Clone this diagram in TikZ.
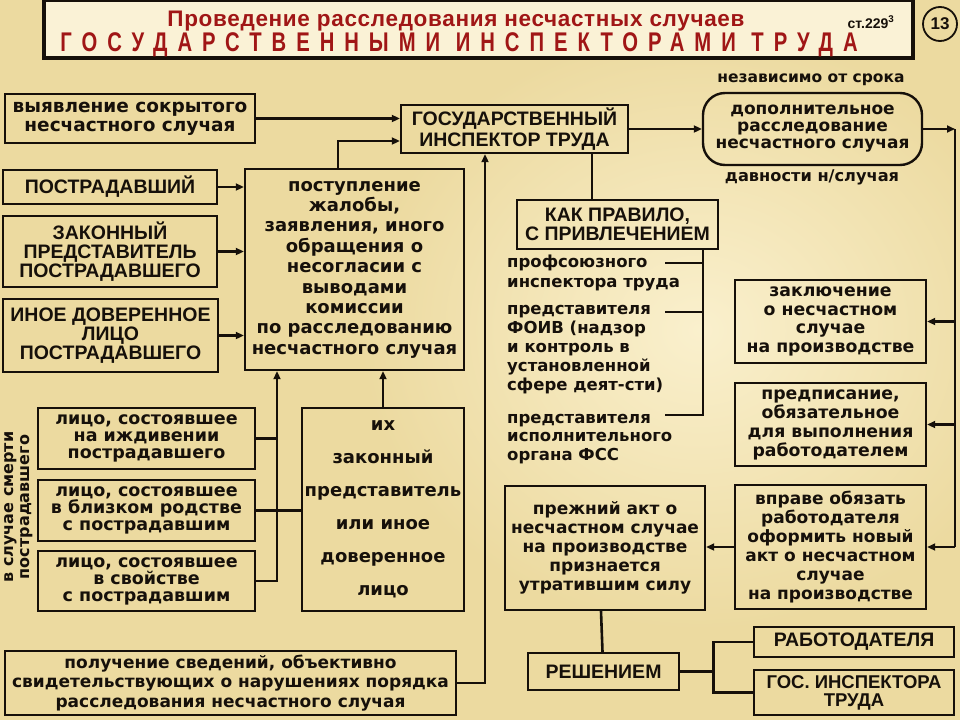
\documentclass[tikz,border=0pt]{standalone}
\usepackage{fontspec}
\setmainfont{DejaVu Sans}
\newfontfamily\capsf{Liberation Sans}
\newfontfamily\narrowf{Liberation Sans}[FakeStretch=0.75]
\usetikzlibrary{arrows.meta}
\definecolor{bg}{RGB}{236,218,160}
\definecolor{bgl}{RGB}{250,240,205}
\definecolor{tfill}{RGB}{250,242,214}
\definecolor{tred}{RGB}{160,22,22}
\definecolor{ink}{RGB}{22,16,10}
\newcommand\fsz[2]{\fontsize{#1}{#2}\selectfont}
\begin{document}
\begin{tikzpicture}[x=1pt,y=-1pt,color=ink,
  box/.style={draw=ink, line width=2.4pt, inner sep=0pt, align=center},
  con/.style={draw=ink, line width=2.6pt},
  arr/.style={con, -{Triangle[length=8pt,width=7pt]}},
  lc/.style={font=\bfseries\fsz{17}{#1}},
  uc/.style={font=\capsf\bfseries\fsz{19.5}{#1}},
]
\useasboundingbox (0,0) rectangle (960,720);
\fill[bg] (0,0) rectangle (960,720);
\shade[inner color=bgl, outer color=bg] (700,330) ellipse (340pt and 300pt);

% title
\node[draw=ink, line width=4pt, fill=tfill, minimum width=869pt, minimum height=58pt, inner sep=0pt] (title) at (478.5,29) {};
\node[text=tred, font=\capsf\bfseries\fsz{22.5}{22}\addfontfeature{LetterSpace=3}, anchor=base, inner sep=0pt] (t1) at (456,26) {Проведение расследования несчастных случаев};
\node[text=tred, font=\narrowf\bfseries\fsz{27}{27}\addfontfeature{LetterSpace=37}, anchor=base, inner sep=0pt] (t2) at (459,51.5) {ГОСУДАРСТВЕННЫМИ ИНСПЕКТОРАМИ ТРУДА};
\node[font=\capsf\bfseries\fsz{14}{14}, anchor=base, inner sep=0pt] (st) at (871,28) {ст.229\textsuperscript{3}};
\node[draw=ink, circle, line width=1.8pt, minimum size=34pt, inner sep=0pt, font=\capsf\bfseries\fsz{17}{17}] (num) at (940,24) {13};

% left column
\node[box, font=\bfseries\fsz{18.5}{19}, minimum width=250pt, minimum height=49pt] (vyyav) at (130,118.5) {выявление сокрытого\\несчастного случая};
\node[box, uc=21, minimum width=227pt, minimum height=48pt] (gos) at (514.5,129) {ГОСУДАРСТВЕННЫЙ\\ИНСПЕКТОР ТРУДА};
\node[box, uc=20, minimum width=214pt, minimum height=34pt] (postr) at (110,187) {ПОСТРАДАВШИЙ};
\node[box, uc=19, minimum width=214pt, minimum height=71pt] (zakon) at (110,251.5) {ЗАКОННЫЙ\\ПРЕДСТАВИТЕЛЬ\\ПОСТРАДАВШЕГО};
\node[box, uc=19, minimum width=215pt, minimum height=73pt] (inoe) at (110.5,335.5) {ИНОЕ ДОВЕРЕННОЕ\\ЛИЦО\\ПОСТРАДАВШЕГО};
\node[box, font=\bfseries\fsz{18}{20.4}, minimum width=219pt, minimum height=201pt] (postup) at (354.5,269.5) {поступление\\жалобы,\\заявления, иного\\обращения о\\несогласии с\\выводами\\комиссии\\по расследованию\\несчастного случая};

\node[box, font=\bfseries\fsz{17.5}{17}, minimum width=217pt, minimum height=61pt] (lico1) at (146.5,438.5) {лицо, состоявшее\\на иждивении\\пострадавшего};
\node[box, font=\bfseries\fsz{17.5}{17}, minimum width=217pt, minimum height=61pt] (lico2) at (146.5,510.5) {лицо, состоявшее\\в близком родстве\\с пострадавшим};
\node[box, font=\bfseries\fsz{17.5}{17}, minimum width=217pt, minimum height=60pt] (lico3) at (146.5,581) {лицо, состоявшее\\в свойстве\\с пострадавшим};
\node[font=\bfseries\fsz{16}{16}, rotate=90, align=center] (smert) at (19,507) {в случае смерти\\пострадавшего};
\node[box, font=\bfseries\fsz{18}{33}, minimum width=162pt, minimum height=203pt] (ih) at (383,509.5) {их\\законный\\представитель\\или иное\\доверенное\\лицо};
\node[box, lc=19.5, minimum width=451pt, minimum height=64pt] (poluch) at (230.5,683) {получение сведений, объективно\\свидетельствующих о нарушениях порядка\\расследования несчастного случая};

% right part
\node[font=\bfseries\fsz{15.5}{16}] (nezav) at (811,80) {независимо от срока};
\node[box, rounded corners=22pt, lc=17, minimum width=219pt, minimum height=72pt] (dop) at (812.5,129) {дополнительное\\расследование\\несчастного случая};
\node[font=\bfseries\fsz{16.2}{16}] (davn) at (812,177) {давности н/случая};
\node[box, uc=19, minimum width=201pt, minimum height=49pt] (kak) at (617.5,224.5) {КАК ПРАВИЛО,\\С ПРИВЛЕЧЕНИЕМ};
\node[font=\bfseries\fsz{16.5}{20}, align=left, anchor=west, inner sep=0pt] (prof) at (507,273) {профсоюзного\\инспектора труда};
\node[font=\bfseries\fsz{16.5}{19}, align=left, anchor=west, inner sep=0pt] (foiv) at (507,350) {представителя\\ФОИВ (надзор\\и контроль в\\установленной\\сфере деят-сти)};
\node[font=\bfseries\fsz{16.5}{18.5}, align=left, anchor=west, inner sep=0pt] (fss) at (507,439) {представителя\\исполнительного\\органа ФСС};

\node[box, font=\bfseries\fsz{17.3}{18.7}, minimum width=191pt, minimum height=83pt] (zakl) at (830.5,321.5) {заключение\\о несчастном\\случае\\на производстве};
\node[box, font=\bfseries\fsz{17.3}{19}, minimum width=191pt, minimum height=83pt] (predp) at (830.5,424.5) {предписание,\\обязательное\\для выполнения\\работодателем};
\node[box, lc=19, minimum width=191pt, minimum height=124pt] (vprave) at (830.5,547) {вправе обязать\\работодателя\\оформить новый\\акт о несчастном\\случае\\на производстве};
\node[box, lc=19, minimum width=200pt, minimum height=124pt] (prezh) at (605,548) {прежний акт о\\несчастном случае\\на производстве\\признается\\утратившим силу};
\node[box, uc=20, minimum width=151pt, minimum height=37pt] (resh) at (603.5,671.5) {РЕШЕНИЕМ};
\node[box, uc=20, minimum width=200pt, minimum height=30pt] (rabot) at (854,642) {РАБОТОДАТЕЛЯ};
\node[box, font=\capsf\bfseries\fsz{18.5}{18}, minimum width=200pt, minimum height=45pt] (gosinsp) at (854,692.5) {ГОС. ИНСПЕКТОРА\\ТРУДА};

% coordinates
\coordinate (rc) at (955,129);
\coordinate (kj) at (703,415);
\coordinate (sp1) at (665,263);
\coordinate (sp2) at (665,312);
\coordinate (sp3) at (665,415);

% connectors left
\draw[arr] (vyyav.east) -- (vyyav.east -| gos.west);
\draw[arr] ([xshift=-16.5pt]postup.north) |- ([yshift=-12pt]gos.west);
\draw[arr] (postr.east) -- (postr.east -| postup.west);
\draw[arr] (zakon.east) -- (zakon.east -| postup.west);
\draw[arr] (inoe.east) -- (inoe.east -| postup.west);
\draw[arr] (lico3.east) -| ([xshift=-77.5pt]postup.south);
\draw[con] (lico1.east) -- ++(22,0);
\draw[con] (lico2.east) -- (lico2.east -| ih.west);
\draw[arr] (ih.north) -- (ih.north |- postup.south);
\draw[arr] (poluch.east) -| ([xshift=-29.5pt]gos.south);

% connectors right
\draw[arr] (gos.east) -- (dop.west);
\draw[arr] (dop.east) -- (rc);
\draw[con] (rc) -- (rc |- vprave.east);
\draw[arr] (rc |- zakl.east) -- (zakl.east);
\draw[arr] (rc |- predp.east) -- (predp.east);
\draw[arr] (rc |- vprave.east) -- (vprave.east);
\draw[con] ([xshift=77.5pt]gos.south) -- ([xshift=-25.5pt]kak.north);
\draw[con] ([xshift=85.5pt]kak.south) |- (sp3);
\draw[con] (sp1) -- (sp1 -| kj);
\draw[con] (sp2) -- (sp2 -| kj);
\draw[arr] (vprave.west) -- (vprave.west -| prezh.east);
\draw[con] ([xshift=-4pt]prezh.south) -- ([xshift=-2.5pt]prezh.south |- resh.north);
\draw[con] (resh.east) -- ++(33,0) coordinate (rj);
\draw[con] (rabot.west) -| (rj) |- (gosinsp.west);
\end{tikzpicture}
\end{document}
